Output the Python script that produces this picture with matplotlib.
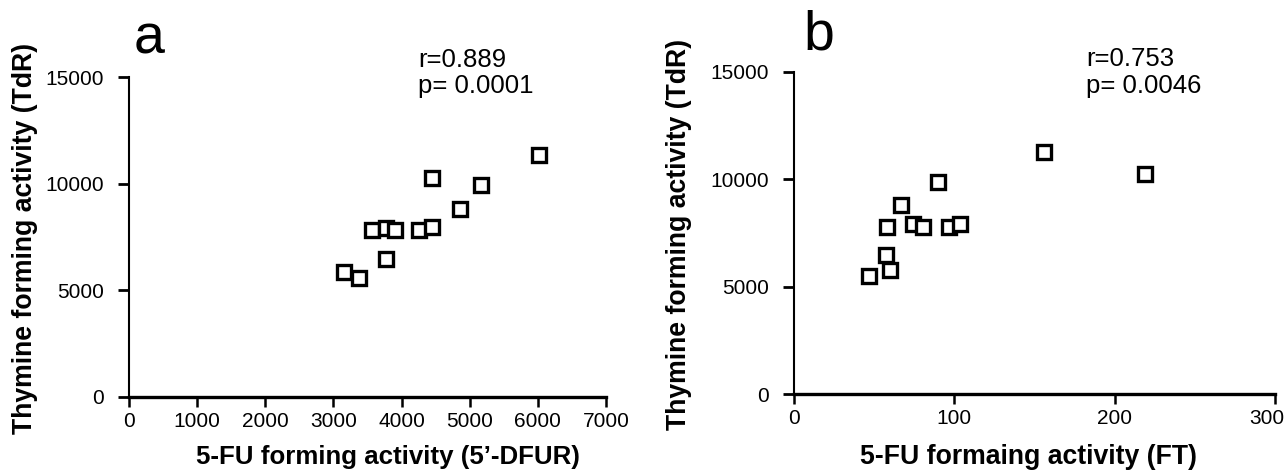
import numpy as np
import matplotlib
matplotlib.use("Agg")
import matplotlib.pyplot as plt
import matplotlib.transforms as mtransforms

plt.rcParams['font.family'] = ['Liberation Sans', 'DejaVu Sans']

# panel a: 5-FU forming activity (5'-DFUR) vs thymine forming activity (TdR)
dfur_x = [6020, 4440, 5170, 4860, 3560, 3770, 3910, 4250, 4450, 3770, 3150, 3380]
dfur_y = [11350, 10250, 9960, 8820, 7820, 7930, 7820, 7820, 7960, 6490, 5840, 5570]

# panel b: 5-FU forming activity (FT) vs thymine forming activity (TdR)
ft_x = [156, 219, 90, 66.5, 58, 74, 80.5, 96.5, 103.5, 57.5, 60, 47]
ft_y = [11280, 10250, 9890, 8800, 7800, 7920, 7770, 7800, 7940, 6480, 5760, 5500]

y_ticks = [0, 5000, 10000, 15000]
xa_ticks = [0, 1000, 2000, 3000, 4000, 5000, 6000, 7000]
xb_ticks = [0, 100, 200, 300]

W, H = 1288, 470
fig = plt.figure(figsize=(W / 100, H / 100), dpi=100)
ax_a = fig.add_axes([129 / W, 73 / H, 477 / W, 320 / H])
ax_b = fig.add_axes([794 / W, 76 / H, 481 / W, 322 / H])


def style(ax, xs, ys, xticks, xmax):
    ax.plot(xs, ys, 's', ms=9.5, mfc='white', mec='black', mew=2.4, clip_on=False)
    ax.set_xlim(0, xmax)
    ax.set_ylim(0, 15000)
    ax.set_xticks(xticks)
    ax.set_yticks(y_ticks)
    for s in ['top', 'right']:
        ax.spines[s].set_visible(False)
    ax.spines['bottom'].set_linewidth(2.4)
    ax.spines['left'].set_linewidth(1.5)
    ax.tick_params(axis='x', direction='out', length=7, width=1.8, pad=4, labelsize=15)
    ax.tick_params(axis='y', direction='out', length=8, width=2, pad=10, labelsize=15)


style(ax_a, dfur_x, dfur_y, xa_ticks, 7000)
style(ax_b, ft_x, ft_y, xb_ticks, 300)

# last label of panel b sits a bit left so it stays on the page
lab = ax_b.get_xticklabels()[-1]
lab.set_transform(lab.get_transform() +
                  mtransforms.ScaledTranslation(-8 / 100, 0, fig.dpi_scale_trans))

# axis titles (placed in pixels like the original)
fig.text(388 / W, 1 - 464 / H, "5-FU forming activity (5\u2019-DFUR)",
         fontsize=18.6, fontweight='bold', ha='center', va='baseline')
fig.text(1028 / W, 1 - 464 / H, "5-FU formaing activity (FT)",
         fontsize=19.2, fontweight='bold', ha='center', va='baseline')
fig.text(25 / W, 1 - 238 / H, 'Thymine forming activity (TdR)',
         fontsize=19.2, fontweight='bold', rotation=90, ha='center', va='center')
fig.text(679 / W, 1 - 234 / H, 'Thymine forming activity (TdR)',
         fontsize=19.2, fontweight='bold', rotation=90, ha='center', va='center')

# correlation stats
fig.text(418 / W, 1 - 67 / H, 'r=0.889', fontsize=18.5, va='baseline')
fig.text(418 / W, 1 - 93 / H, 'p= 0.0001', fontsize=18.5, va='baseline')
fig.text(1086 / W, 1 - 66 / H, 'r=0.753', fontsize=18.5, va='baseline')
fig.text(1086 / W, 1 - 93 / H, 'p= 0.0046', fontsize=18.5, va='baseline')

# panel letters
fig.text(134 / W, 1 - 53 / H, 'a', fontsize=40, ha='left', va='baseline')
fig.text(803 / W, 1 - 50 / H, 'b', fontsize=40, ha='left', va='baseline')

fig.savefig('out.png', dpi=100, facecolor='white')
